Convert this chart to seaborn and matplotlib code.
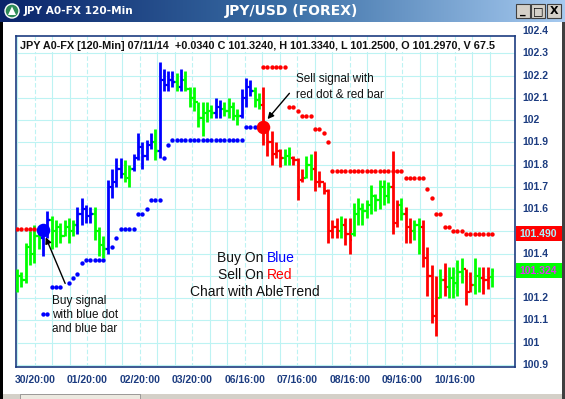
import numpy as np
import pandas as pd
import seaborn as sns
import matplotlib.pyplot as plt
from matplotlib.patches import Rectangle, Circle, Polygon
import matplotlib.transforms as mtransforms
from matplotlib.colors import LinearSegmentedColormap

# bar colour codes: B = blue (up trend), G = green (neutral), R = red (down trend)
bar_codes = ("GGGGGGBBGGGGGGBBBBGGGBBBBGGBBBBBGBBBBGB"
             "GGGGGGGBBGGGGBBBGGRRRRRGGRRRGGRRRRRRGRR"
             "GGGGGGGGGRRGRRGGRRRRGRGGGGRRGGRRG")

highs = [101.33, 101.32, 101.45, 101.50, 101.53, 101.52, 101.51, 101.59, 101.57, 101.55,
         101.54, 101.55, 101.56, 101.55, 101.61, 101.65, 101.62, 101.61, 101.61, 101.52,
         101.48, 101.73, 101.78, 101.83, 101.83, 101.82, 101.80, 101.85, 101.94, 101.90,
         101.91, 101.94, 101.96, 102.26, 102.23, 102.22, 102.22, 102.21, 102.23, 102.22,
         102.15, 102.15, 102.08, 102.08, 102.08, 102.07, 102.10, 102.09, 102.08, 102.10,
         102.08, 102.05, 102.14, 102.19, 102.18, 102.15, 102.12, 102.15, 101.96, 101.95,
         101.90, 101.87, 101.87, 101.88, 101.84, 101.83, 101.78, 101.84, 101.85, 101.86,
         101.77, 101.72, 101.69, 101.55, 101.56, 101.57, 101.56, 101.56, 101.63, 101.65,
         101.63, 101.64, 101.71, 101.67, 101.73, 101.73, 101.72, 101.86, 101.64, 101.65,
         101.61, 101.56, 101.55, 101.56, 101.55, 101.43, 101.35, 101.30, 101.33, 101.36,
         101.34, 101.34, 101.37, 101.38, 101.33, 101.32, 101.38, 101.34, 101.34, 101.34,
         101.334]

lows = [101.23, 101.25, 101.27, 101.35, 101.36, 101.42, 101.39, 101.47, 101.42, 101.43,
        101.45, 101.48, 101.45, 101.48, 101.49, 101.53, 101.54, 101.54, 101.46, 101.39,
        101.38, 101.40, 101.65, 101.70, 101.74, 101.72, 101.70, 101.77, 101.82, 101.78,
        101.82, 101.87, 101.82, 101.83, 102.13, 102.13, 102.15, 102.13, 102.13, 102.13,
        102.06, 102.04, 101.97, 101.93, 101.99, 102.01, 102.01, 102.01, 102.02, 102.01,
        102.00, 101.98, 102.01, 102.06, 102.11, 102.06, 102.05, 101.89, 101.84, 101.80,
        101.83, 101.79, 101.80, 101.80, 101.80, 101.64, 101.72, 101.74, 101.73, 101.68,
        101.70, 101.67, 101.45, 101.47, 101.47, 101.47, 101.44, 101.40, 101.48, 101.53,
        101.53, 101.56, 101.58, 101.59, 101.60, 101.62, 101.63, 101.49, 101.52, 101.55,
        101.45, 101.45, 101.46, 101.40, 101.34, 101.21, 101.09, 101.03, 101.20, 101.21,
        101.20, 101.20, 101.21, 101.27, 101.17, 101.23, 101.22, 101.23, 101.22, 101.24,
        101.25]

opens = [101.27, 101.30, 101.28, 101.43, 101.40, 101.48, 101.47, 101.50, 101.55, 101.50,
         101.52, 101.48, 101.52, 101.50, 101.53, 101.58, 101.60, 101.57, 101.58, 101.50,
         101.44, 101.42, 101.70, 101.72, 101.78, 101.76, 101.74, 101.78, 101.83, 101.88,
         101.84, 101.89, 101.90, 101.86, 102.18, 102.16, 102.18, 102.17, 102.15, 102.18,
         102.14, 102.10, 102.08, 102.01, 102.03, 102.04, 102.03, 102.06, 102.05, 102.04,
         102.06, 102.02, 102.02, 102.10, 102.15, 102.13, 102.09, 102.07, 101.95, 101.90,
         101.85, 101.86, 101.83, 101.84, 101.83, 101.82, 101.73, 101.74, 101.80, 101.78,
         101.72, 101.72, 101.68, 101.50, 101.52, 101.50, 101.53, 101.49, 101.49, 101.58,
         101.60, 101.59, 101.62, 101.66, 101.64, 101.70, 101.66, 101.70, 101.54, 101.62,
         101.58, 101.52, 101.50, 101.53, 101.52, 101.38, 101.30, 101.12, 101.20, 101.28,
         101.25, 101.29, 101.27, 101.32, 101.33, 101.23, 101.26, 101.30, 101.29, 101.28,
         101.297]

closes = [101.30, 101.28, 101.43, 101.40, 101.48, 101.47, 101.50, 101.55, 101.50, 101.52,
          101.48, 101.52, 101.50, 101.53, 101.58, 101.60, 101.57, 101.58, 101.50, 101.44,
          101.42, 101.70, 101.72, 101.78, 101.76, 101.74, 101.78, 101.83, 101.88, 101.84,
          101.89, 101.90, 101.86, 102.18, 102.16, 102.18, 102.17, 102.15, 102.18, 102.14,
          102.10, 102.08, 102.01, 102.03, 102.04, 102.03, 102.06, 102.05, 102.04, 102.06,
          102.02, 102.02, 102.10, 102.15, 102.13, 102.09, 102.07, 101.95, 101.90, 101.85,
          101.86, 101.83, 101.84, 101.85, 101.82, 101.70, 101.74, 101.80, 101.78, 101.72,
          101.72, 101.68, 101.50, 101.52, 101.50, 101.53, 101.49, 101.46, 101.58, 101.60,
          101.59, 101.62, 101.66, 101.64, 101.70, 101.66, 101.70, 101.54, 101.62, 101.58,
          101.52, 101.50, 101.53, 101.52, 101.38, 101.30, 101.12, 101.20, 101.28, 101.25,
          101.29, 101.27, 101.32, 101.33, 101.23, 101.26, 101.30, 101.29, 101.28, 101.29,
          101.324]

N = None
# AbleTrend stop dots (blue under price in up trend, red above price in down trend)
blue_dots = [N, N, N, N, N, N, 101.13, 101.13, 101.25, 101.25,
             101.25, N, 101.27, 101.29, 101.31, 101.36, 101.37, 101.37, 101.37, 101.37,
             101.37, N, 101.43, 101.47, 101.51, 101.51, 101.51, 101.51, 101.58, 101.58,
             101.60, 101.64, 101.64, 101.64, 101.83, 101.89, 101.91, 101.91, 101.91, 101.91,
             101.91, 101.91, 101.91, 101.91, 101.91, 101.91, 101.91, 101.91, 101.91, 101.91,
             101.91, 101.91, 101.91, 101.97, 101.97, 101.97, N, N, N, N] + [N] * 51

red_dots = ([101.51] * 5 + [N] * 52 +
            [102.24, 102.24, 102.24, 102.24, 102.24, 102.24, 102.06, 102.06, 102.04,
             102.02, 102.02, 102.02, 101.96, 101.96, 101.94, 101.90] + [101.77] * 17 +
            [101.74] * 5 + [101.69, 101.65, 101.58, 101.58, 101.52, 101.52,
                            101.50, 101.50, 101.50] + [101.49] * 7)

buy_signal = (6, 101.505)
sell_signal = (57, 101.97)

x_labels = ["30/20:00", "01/20:00", "02/20:00", "03/20:00", "06/16:00",
            "07/16:00", "08/16:00", "09/16:00", "10/16:00"]
y_levels = [102.4, 102.3, 102.2, 102.1, 102.0, 101.9, 101.8, 101.7, 101.6,
            101.5, 101.4, 101.3, 101.2, 101.1, 101.0, 100.9]
y_level_text = ["102.4", "102.3", "102.2", "102.1", "102", "101.9", "101.8", "101.7",
                "101.6", "", "101.4", "", "101.2", "101.1", "101", "100.9"]
last_close = 101.324
last_stop = 101.490

df = pd.DataFrame({"bar": np.arange(len(highs)), "high": highs, "low": lows,
                   "open": opens, "close": closes, "code": list(bar_codes),
                   "blue_dot": pd.to_numeric(pd.Series(blue_dots), errors="coerce"),
                   "red_dot": pd.to_numeric(pd.Series(red_dots), errors="coerce")})
palette = {"B": "#0000FF", "G": "#00FF00", "R": "#FF0000"}
df["color"] = df["code"].map(palette)

sns.set_style("white")
plt.rcParams["font.family"] = ["Liberation Sans", "DejaVu Sans"]

W, H = 565, 399
fig = plt.figure(figsize=(W / 100, H / 100), dpi=100)
fig.patch.set_facecolor("white")


def fx(px):
    return px / W


def fy(py):
    return 1 - py / H


navy = "#1C3C80"

# main chart area
ax = fig.add_axes([fx(16), fy(367), fx(515) - fx(16), fy(36) - fy(367)])
ax.set_facecolor("white")
nbar = len(df)
px_per_bar = (492 - 17) / (nbar - 1)
ax.set_xlim(-1 / px_per_bar, (515 - 17) / px_per_bar)
ax.set_ylim(100.891, 102.378)

# time ticks every 8 hours, a date label on every third one
tick_step = 17.5 / px_per_bar
tick_pos = [0.1 + tick_step * k for k in range(28)]
label_every = 3

# grid
grid_c = "#BDF3F3"
for lv in y_levels:
    ax.axhline(lv, color=grid_c, lw=0.8, zorder=0)
for k, tp in enumerate(tick_pos):
    ls = (0, (4, 2)) if k % label_every == 1 else "-"
    ax.axvline(tp, color=grid_c, lw=0.8, ls=ls, zorder=0)

# OHLC bars
ax.vlines(df["bar"], df["low"], df["high"], colors=df["color"], lw=2.0, zorder=3)
ax.hlines(df["open"], df["bar"] - 0.55, df["bar"], colors=df["color"], lw=1.6, zorder=3)
ax.hlines(df["close"], df["bar"], df["bar"] + 0.55, colors=df["color"], lw=1.6, zorder=3)

# stop dots
sns.scatterplot(data=df, x="bar", y="blue_dot", color="#0000FF", s=10, linewidth=0,
                ax=ax, zorder=4)
sns.scatterplot(data=df, x="bar", y="red_dot", color="#FF0000", s=10, linewidth=0,
                ax=ax, zorder=4)
sns.scatterplot(x=[buy_signal[0]], y=[buy_signal[1]], color="#0000FF", s=95,
                linewidth=0, ax=ax, zorder=5)
sns.scatterplot(x=[sell_signal[0]], y=[sell_signal[1]], color="#FF0000", s=95,
                linewidth=0, ax=ax, zorder=5)

ax.set_xlabel("")
ax.set_ylabel("")
for s in ax.spines.values():
    s.set_color(navy)
    s.set_linewidth(1.2)

ax.set_xticks(tick_pos)
ax.set_xticklabels([x_labels[(k - 1) // label_every]
                    if k % label_every == 1 and (k - 1) // label_every < len(x_labels)
                    else "" for k in range(len(tick_pos))])
ax.tick_params(axis="x", direction="out", length=4, width=1, color=navy,
               labelcolor=navy, labelsize=7.5, pad=2)
for t in ax.get_xticklabels():
    t.set_fontweight("bold")
ax.set_yticks([])

# right hand price scale
ytrans = mtransforms.blended_transform_factory(ax.transAxes, ax.transData)
for lv, txt in zip(y_levels, y_level_text):
    if txt:
        ax.text(1.014, lv, txt, transform=ytrans, ha="left", va="center", fontsize=7.5,
                fontweight="bold", color=navy, clip_on=False)

px_price = 1 / 222.7
for val, face, fg in [(last_stop, "#FF0000", "#A8F4FF"), (last_close, "#00FF00", "#E030F0")]:
    ax.add_patch(Rectangle((1.003, val - 7.5 * px_price), 47 / 499, 15 * px_price,
                           transform=ytrans, facecolor=face, edgecolor="none",
                           clip_on=False, zorder=6))
    ax.text(1.008, val, f"{val:.3f}", transform=ytrans, ha="left", va="center",
            fontsize=7.5, fontweight="bold", color=fg, clip_on=False, zorder=7)

# quote header
ax.text(0.008, 0.985, "JPY A0-FX [120-Min] 07/11/14  +0.0340 C 101.3240, H 101.3340, "
        "L 101.2500, O 101.2970, V 67.5", transform=ax.transAxes, ha="left", va="top",
        fontsize=7.8, fontweight="bold", color="#111111", clip_on=True, zorder=8,
        bbox=dict(facecolor="white", edgecolor="none", pad=1))

# annotations
ax.annotate("", xy=(57.6, 101.995), xytext=(63.5, 102.13),
            arrowprops=dict(arrowstyle="-|>", color="black", lw=1, mutation_scale=9),
            zorder=9)
ax.text(64.6, 102.21, "Sell signal with\nred dot & red bar", ha="left", va="top",
        fontsize=8.5, color="#111111", linespacing=1.35, zorder=9)
ax.annotate("", xy=(6.4, 101.485), xytext=(11.4, 101.255),
            arrowprops=dict(arrowstyle="-|>", color="black", lw=1, mutation_scale=9),
            zorder=9)
ax.text(8.1, 101.215, "Buy signal\nwith blue dot\nand blue bar", ha="left",
        va="top", fontsize=8.5, color="#111111", linespacing=1.25, zorder=9)

split = 57.9
for yv, a, b, col in [(101.38, "Buy On ", "Blue", "#0000FF"),
                      (101.305, "Sell On ", "Red", "#FF0000")]:
    ax.text(split, yv, a, ha="right", va="center", fontsize=10, color="#111111")
    ax.text(split, yv, b, ha="left", va="center", fontsize=10, color=col)
ax.text(split - 2.8, 101.226, "Chart with AbleTrend", ha="center", va="center",
        fontsize=10, color="#111111")

# window chrome: title bar
tb = fig.add_axes([0, fy(22), 1, 22 / H])
grad = np.linspace(0, 1, 256).reshape(1, -1)
cmap = LinearSegmentedColormap.from_list("tb", ["#0A246A", "#3A6EA5", "#A6CAF0"])
tb.imshow(grad, aspect="auto", cmap=cmap, extent=[0, W, 22, 0])
tb.set_xlim(0, W)
tb.set_ylim(22, 0)
tb.axis("off")
tb.add_patch(Circle((12, 11), 7, facecolor="#2E8B57", edgecolor="white", lw=1))
tb.add_patch(Polygon([[8, 15], [12, 6.5], [16, 15]], closed=True, facecolor="white",
                     edgecolor="none"))
tb.text(24, 11.5, "JPY A0-FX 120-Min", color="white", fontsize=7.6, fontweight="bold",
        family="DejaVu Sans", ha="left", va="center")
tb.text(291, 11.5, "JPY/USD (FOREX)", color="white", fontsize=10, fontweight="bold",
        family="DejaVu Sans", ha="center", va="center")
for x0, sym in [(516, "_"), (531, "\u25a1"), (547, "X")]:
    tb.add_patch(Rectangle((x0, 4), 14, 14, facecolor="#D4D0C8", edgecolor="#404040",
                           lw=0.8))
    tb.text(x0 + 7, 11.5, sym, fontsize=8, fontweight="bold", ha="center", va="center",
            color="black", family="DejaVu Sans")

# window borders and scroll bar
fig.patches.append(Rectangle((0, 0), fx(3), fy(22), transform=fig.transFigure,
                             facecolor="black", edgecolor="none"))
fig.patches.append(Rectangle((fx(562), 0), fx(3), fy(22), transform=fig.transFigure,
                             facecolor="#404040", edgecolor="none"))
fig.patches.append(Rectangle((fx(3), 0), fx(559), 5 / H, transform=fig.transFigure,
                             facecolor="#D4D0C8", edgecolor="none"))
fig.patches.append(Rectangle((fx(20), 0), fx(120), 5 / H, transform=fig.transFigure,
                             facecolor="#ECE9E0", edgecolor="#808080", lw=0.5))

fig.savefig("out.png", dpi=100)
